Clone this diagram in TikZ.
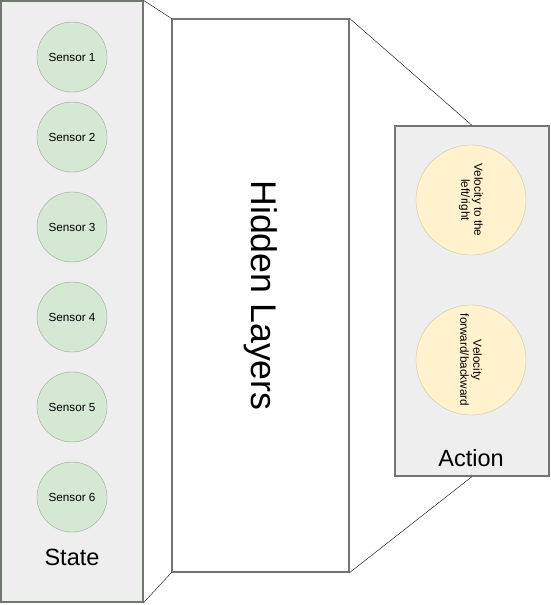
\documentclass[tikz,border=0pt]{standalone}
\usepackage{fontspec}
\setmainfont{Liberation Sans}
\usepackage{tikz}
\usetikzlibrary{positioning,calc}
\usepackage{xcolor}
\definecolor{panelfill}{HTML}{EEEEEE}
\definecolor{panelline}{HTML}{6F776F}
\definecolor{sensorfill}{HTML}{D5E8D4}
\definecolor{sensorline}{HTML}{9AA89A}
\definecolor{actfill}{HTML}{FFF2CC}
\definecolor{actline}{HTML}{C8C8A8}

\begin{document}
\begin{tikzpicture}[x=1pt, y=-1pt,
    panel/.style={draw=panelline, line width=1.2pt, inner sep=0pt},
    sensor/.style={draw=sensorline, circle, fill=sensorfill, minimum size=70pt, inner sep=0pt, font=\fontsize{11.7}{13}\selectfont},
    act/.style={draw=actline, circle, fill=actfill, minimum size=110pt, inner sep=0pt},
    acttext/.style={rotate=-90, align=center, font=\fontsize{11.7}{13}\selectfont},
    biglabel/.style={font=\fontsize{23.5}{26}\selectfont}]
            \useasboundingbox (0,0) rectangle (550,605);

            % State panel
            \node[panel, fill=panelfill, minimum width=142pt, minimum height=601pt] (state) at (72,301.5) {};
            \foreach \i/\y in {1/57,2/137,3/227,4/317,5/407,6/497}
                \node[sensor] (s\i) at (72,\y) {Sensor \i};
            \node[biglabel] (statelbl) at (72,557) {State};

            % Hidden layers
            \node[panel, fill=white, minimum width=177pt, minimum height=553pt] (hidden) at (260.5,295.5) {};
            \node[rotate=-90, font=\fontsize{35.7}{40}\selectfont] (hiddenlbl) at (hidden.center) {Hidden Layers};

            % Action panel
            \node[panel, fill=panelfill, minimum width=154pt, minimum height=350pt] (action) at (472,301) {};
            \node[act] (a1) at (471,200) {};
            \node[acttext] at (a1.center) {Velocity to the\\left/right};
            \node[act] (a2) at (471,360) {};
            \node[acttext] at (a2.center) {Velocity\\forward/backward};
            \node[biglabel] (actlbl) at (471,458) {Action};

            % Connectors
            \draw (state.north east) -- (hidden.north west);
            \draw (state.south east) -- (hidden.south west);
            \draw (hidden.north east) -- (action.north);
            \draw (hidden.south east) -- (action.south);
\end{tikzpicture}
\end{document}
